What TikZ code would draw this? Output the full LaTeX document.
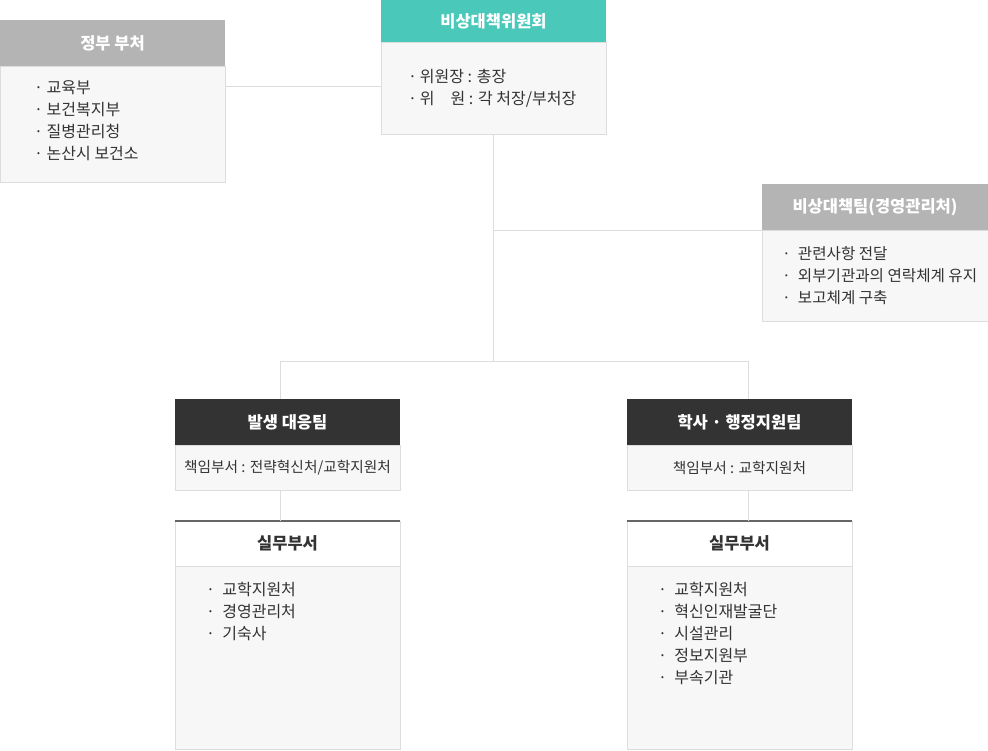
\documentclass[tikz,border=0pt]{standalone}
\usepackage{fontspec}
\setmainfont{Noto Sans CJK KR}
\usetikzlibrary{positioning}
\definecolor{lineGrey}{HTML}{DDDDDD}
\definecolor{boxGrey}{HTML}{F7F7F7}
\definecolor{headGrey}{HTML}{B4B4B4}
\definecolor{headTeal}{HTML}{4AC8B9}
\definecolor{headDark}{HTML}{333333}
\definecolor{textDark}{HTML}{333333}
\definecolor{topDark}{HTML}{666666}
\tikzset{%
    head/.style={rectangle, inner sep=0pt, outer sep=0pt, minimum width=225, minimum height=46, text=white, font=\fontsize{16.5}{18}\selectfont\bfseries},
    greyhead/.style={head, fill=headGrey},
    tealhead/.style={head, fill=headTeal, minimum height=42},
    darkhead/.style={head, fill=headDark},
    titlebox/.style={head, fill=white, draw=lineGrey, text=textDark},
    bodybox/.style={rectangle, inner sep=0pt, outer sep=0pt, minimum width=225, draw=lineGrey, fill=boxGrey, text=textDark, font=\fontsize{14.7}{18}\selectfont},
    items/.style={inner sep=0pt, align=left, anchor=base west, text=textDark, font=\fontsize{16}{22}\selectfont},
    link/.style={draw=lineGrey, line width=1pt},
    topline/.style={draw=topDark, line width=2pt}
}
\begin{document}
\begin{tikzpicture}[x=1pt, y=-1pt]
    \useasboundingbox (0,0) rectangle (988,750);
    % government (lists are placed by their last baseline)
    \node[greyhead, anchor=north west] (gov) at (0,20) {정부 부처};
    \node[bodybox, minimum height=116, below=0pt of gov] (govbody) {};
    \node[items] (govlist) at (34,159) {·\ 교육부\\·\ 보건복지부\\·\ 질병관리청\\·\ 논산시 보건소};
    % committee
    \node[tealhead, anchor=north west] (com) at (381,0) {비상대책위원회};
    \node[bodybox, minimum height=92, below=0pt of com] (combody) {};
    \node[items] (comlist) at (408,104) {·\,위원장 : 총장\\·\,위\hspace{1em}원 : 각 처장/부처장};
    % task team
    \node[greyhead, minimum width=226, anchor=north west] (team) at (762,184) {비상대책팀(경영관리처)};
    \node[bodybox, minimum width=226, minimum height=91, below=0pt of team] (teambody) {};
    \node[items, font=\fontsize{15.6}{22}\selectfont] (teamlist) at (782,303) {·\ \ 관련사항 전달\\·\ \ 외부기관과의 연락체계 유지\\·\ \ 보고체계 구축};
    % response team
    \node[darkhead, anchor=north west] (resp) at (175,399) {발생 대응팀};
    \node[bodybox, minimum height=45, below=0pt of resp] (respbody) {책임부서 : 전략혁신처/교학지원처};
    \node[titlebox, minimum height=45, below=31pt of respbody] (respwork) {실무부서};
    \node[bodybox, minimum height=183, below=0pt of respwork] (respworkbody) {};
    \node[items] (resplist) at (206,639) {·\ \ 교학지원처\\·\ \ 경영관리처\\·\ \ 기숙사};
    % support team
    \node[darkhead, anchor=north west] (supp) at (627,399) {학사 · 행정지원팀};
    \node[bodybox, minimum height=45, below=0pt of supp] (suppbody) {책임부서 : 교학지원처};
    \node[titlebox, minimum height=45, below=31pt of suppbody] (suppwork) {실무부서};
    \node[bodybox, minimum height=183, below=0pt of suppwork] (suppworkbody) {};
    \node[items] (supplist) at (658,683) {·\ \ 교학지원처\\·\ \ 혁신인재발굴단\\·\ \ 시설관리\\·\ \ 정보지원부\\·\ \ 부속기관};
    \draw[topline] (respwork.north west) -- (respwork.north east);
    \draw[topline] (suppwork.north west) -- (suppwork.north east);
    % connectors
    \coordinate (fork) at (493.5,361);
    \coordinate (forkl) at (280,361);
    \coordinate (forkr) at (748,361);
    \draw[link] ([yshift=2pt]combody.west) -- ([yshift=2pt]combody.west -| govbody.east);
    \draw[link] (combody.south) -- (fork);
    \draw[link] (team.south west) -- (team.south west -| fork);
    \draw[link] (forkl) -- (forkr);
    \draw[link] (forkl) -- (forkl |- resp.north);
    \draw[link] (forkr) -- (forkr |- supp.north);
    \draw[link] (forkl |- respbody.south) -- (forkl |- respwork.north);
    \draw[link] (forkr |- suppbody.south) -- (forkr |- suppwork.north);
\end{tikzpicture}
\end{document}
